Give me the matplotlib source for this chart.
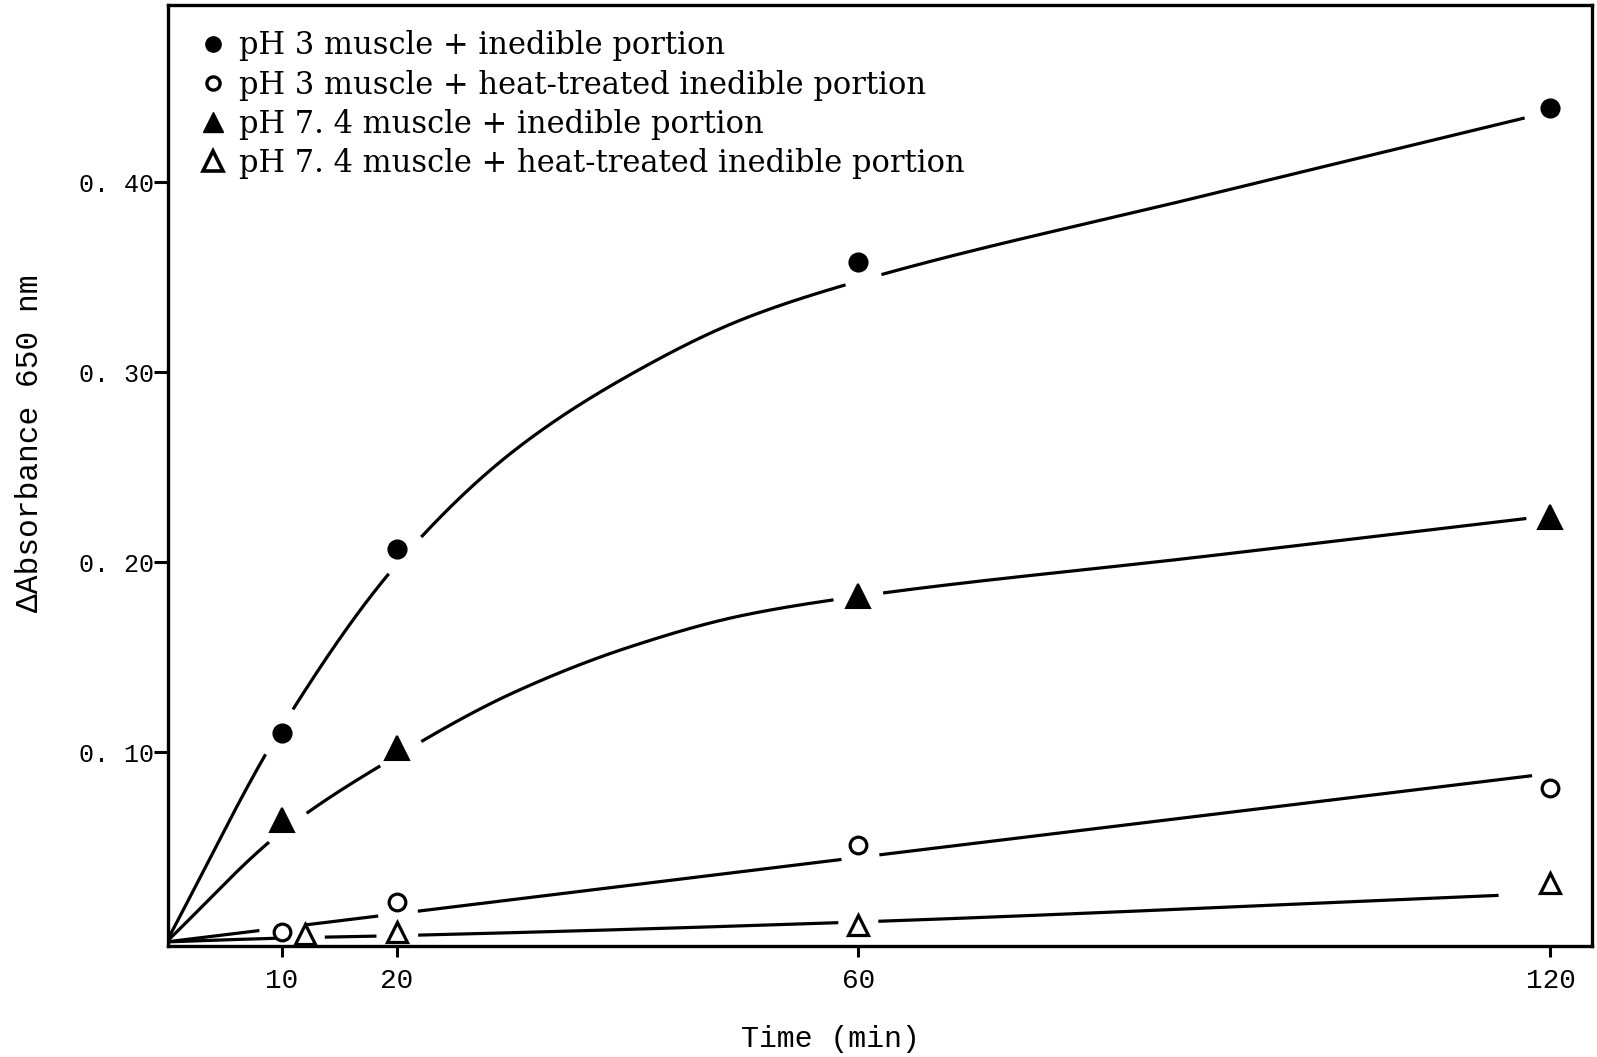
import numpy as np
import matplotlib
matplotlib.use("Agg")
import matplotlib.pyplot as plt
from matplotlib.lines import Line2D

# Sampling times (min)
time_min = [10, 20, 60, 120]
time_min_open_tri = [12, 20, 60, 120]

# Measured absorbance change at 650 nm
ph3_inedible = [0.110, 0.207, 0.358, 0.439]
ph3_heat = [0.005, 0.021, 0.051, 0.081]
ph74_inedible = [0.064, 0.102, 0.182, 0.224]
ph74_heat = [0.004, 0.005, 0.009, 0.031]

# Hand-fitted trend curves (knots)
fit_t_ph3 = [0, 10, 20, 30, 40, 50, 60, 90, 118.5]
fit_ph3 = [0, 0.113, 0.199, 0.258, 0.298, 0.328, 0.348, 0.393, 0.435]
fit_t_ph3_heat = [0, 60, 119.3]
fit_ph3_heat = [0, 0.0445, 0.0882]
fit_t_ph74 = [0, 10, 20, 30, 40, 50, 60, 90, 118.5]
fit_ph74 = [0, 0.058, 0.098, 0.131, 0.155, 0.172, 0.182, 0.203, 0.2234]
fit_t_ph74_heat = [0, 10, 20, 60, 115.5]
fit_ph74_heat = [0, 0.002, 0.0033, 0.0105, 0.0245]

labels = [
    "pH 3 muscle + inedible portion",
    "pH 3 muscle + heat-treated inedible portion",
    "pH 7. 4 muscle + inedible portion",
    "pH 7. 4 muscle + heat-treated inedible portion",
]
xtick_vals = [10, 20, 60, 120]
xtick_labels = ["10", "20", "60", "120"]
ytick_vals = [0.10, 0.20, 0.30, 0.40]
ytick_labels = ["0. 10", "0. 20", "0. 30", "0. 40"]


def pchip(xk, yk, x):
    """Shape-preserving piecewise cubic Hermite interpolation."""
    xk = np.asarray(xk, float)
    yk = np.asarray(yk, float)
    h = np.diff(xk)
    d = np.diff(yk) / h
    m = np.zeros_like(yk)
    m[0], m[-1] = d[0], d[-1]
    for k in range(1, len(xk) - 1):
        if d[k - 1] * d[k] > 0:
            w1 = 2 * h[k] + h[k - 1]
            w2 = h[k] + 2 * h[k - 1]
            m[k] = (w1 + w2) / (w1 / d[k - 1] + w2 / d[k])
    idx = np.clip(np.searchsorted(xk, x) - 1, 0, len(h) - 1)
    s = (x - xk[idx]) / h[idx]
    h00 = 2 * s**3 - 3 * s**2 + 1
    h10 = s**3 - 2 * s**2 + s
    h01 = -2 * s**3 + 3 * s**2
    h11 = s**3 - s**2
    return (h00 * yk[idx] + h10 * h[idx] * m[idx]
            + h01 * yk[idx + 1] + h11 * h[idx] * m[idx + 1])


W, H = 1597, 1057
fig = plt.figure(figsize=(W / 100, H / 100), dpi=100)
ax = fig.add_axes([168 / W, 1 - 945.7 / H, (1592 - 168) / W, (945.7 - 5) / H])
ax.set_xlim(0.14, 123.6)
ax.set_ylim(-0.002, 0.4934)

mono = ["Liberation Mono", "DejaVu Sans Mono"]
serif = ["DejaVu Serif"]

series = [
    (time_min, ph3_inedible, fit_t_ph3, fit_ph3,
     dict(marker="o", ms=13, mfc="black", mec="black", mew=1.5), 26),
    (time_min, ph3_heat, fit_t_ph3_heat, fit_ph3_heat,
     dict(marker="o", ms=12, mfc="white", mec="black", mew=2.3), 22),
    (time_min, ph74_inedible, fit_t_ph74, fit_ph74,
     dict(marker="^", ms=17, mfc="black", mec="black", mew=1.5), 24),
    (time_min_open_tri, ph74_heat, fit_t_ph74_heat, fit_ph74_heat,
     dict(marker="^", ms=15, mfc="white", mec="black", mew=2.3), 20),
]

for t_pts, y_pts, ft, fy, mstyle, gap_px in series:
    tt = np.linspace(ft[0], ft[-1], 800)
    yy = pchip(ft, fy, tt)
    # leave a gap in the trend curve around this series' own points
    curve_disp = ax.transData.transform(np.column_stack([tt, yy]))
    pts_disp = ax.transData.transform(np.column_stack([t_pts, y_pts]))
    dist = np.min(np.hypot(curve_disp[:, None, 0] - pts_disp[None, :, 0],
                           curve_disp[:, None, 1] - pts_disp[None, :, 1]), axis=1)
    yy = np.where(dist < gap_px, np.nan, yy)
    ax.plot(tt, yy, color="black", lw=2.3, solid_capstyle="butt", zorder=2)
    ax.plot(t_pts, y_pts, linestyle="none", zorder=3, **mstyle)

# frame and ticks
for sp in ax.spines.values():
    sp.set_linewidth(2.4)
ax.set_xticks(xtick_vals)
ax.set_xticklabels(xtick_labels, fontfamily=mono, fontsize=20)
ax.set_yticks(ytick_vals)
ax.set_yticklabels(ytick_labels, fontfamily=mono, fontsize=18)
ax.tick_params(axis="x", direction="out", length=8, width=2.2, pad=8)
ax.tick_params(axis="y", direction="out", length=10, width=2.2, pad=0)

fig.text(30.5 / W, 1 - 443 / H, "\u0394Absorbance 650 nm", rotation=90,
         ha="center", va="center", fontsize=22.5, family=mono)
fig.text(830 / W, 1 - 1039 / H, "Time (min)", ha="center", va="center",
         fontsize=21.5, family=mono)

handles = [
    Line2D([], [], ls="none", marker="o", ms=11, mfc="black", mec="black"),
    Line2D([], [], ls="none", marker="o", ms=9.5, mfc="white", mec="black", mew=2.4),
    Line2D([], [], ls="none", marker="^", ms=15, mfc="black", mec="black"),
    Line2D([], [], ls="none", marker="^", ms=14, mfc="white", mec="black", mew=2.6),
]
ax.legend(handles, labels, loc="upper left", bbox_to_anchor=(0.022, 0.973),
          frameon=False, prop={"family": serif, "size": 22},
          handlelength=0.9, handletextpad=0.4, labelspacing=0.27,
          borderpad=0, borderaxespad=0)

fig.savefig("out.png", dpi=100)
